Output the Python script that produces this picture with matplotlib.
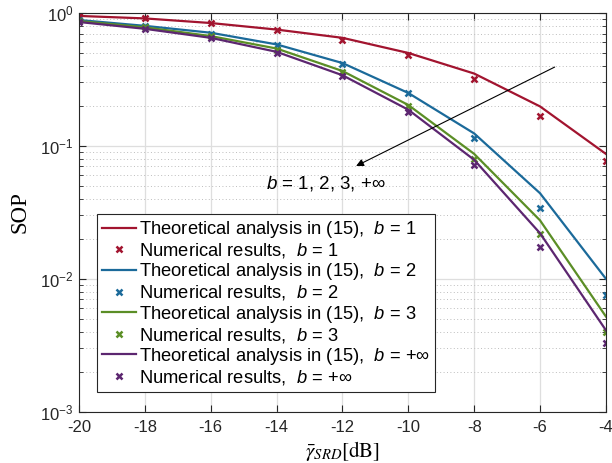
import matplotlib
matplotlib.use("Agg")
import matplotlib.pyplot as plt
from matplotlib.ticker import LogLocator, NullFormatter

plt.rcParams["font.family"] = ["Liberation Sans", "DejaVu Sans"]
plt.rcParams["mathtext.fontset"] = "custom"
plt.rcParams["mathtext.rm"] = "Liberation Sans"
plt.rcParams["mathtext.it"] = "Liberation Sans:italic"
plt.rcParams["mathtext.bf"] = "Liberation Sans:bold"

snr_db = [-20, -18, -16, -14, -12, -10, -8, -6, -4]

theory_b1 = [0.95, 0.91, 0.84, 0.75, 0.65, 0.50, 0.35, 0.198, 0.087]
theory_b2 = [0.885, 0.80, 0.71, 0.58, 0.42, 0.25, 0.124, 0.044, 0.0100]
theory_b3 = [0.87, 0.78, 0.67, 0.54, 0.366, 0.203, 0.087, 0.0275, 0.0052]
theory_binf = [0.855, 0.76, 0.65, 0.51, 0.34, 0.187, 0.0785, 0.022, 0.0041]

sim_b1 = [0.95, 0.91, 0.84, 0.75, 0.63, 0.48, 0.32, 0.167, 0.077]
sim_b2 = [0.88, 0.80, 0.70, 0.57, 0.41, 0.25, 0.114, 0.034, 0.0075]
sim_b3 = [0.87, 0.78, 0.67, 0.53, 0.36, 0.20, 0.080, 0.0217, 0.0040]
sim_binf = [0.85, 0.76, 0.65, 0.50, 0.335, 0.18, 0.072, 0.0172, 0.0033]

b_labels = ["1", "2", "3", "+∞"]
colors = ["#A2142F", "#1B6A9A", "#5B8E26", "#5C2670"]

theory = [theory_b1, theory_b2, theory_b3, theory_binf]
sims = [sim_b1, sim_b2, sim_b3, sim_binf]

fig = plt.figure(figsize=(6.12, 4.63), dpi=100)
ax = fig.add_axes([0.129, 0.111, 0.861, 0.861])

for th, sm, lab, col in zip(theory, sims, b_labels, colors):
    ax.plot(snr_db, th, color=col, linewidth=1.6,
            label=f"Theoretical analysis in (15),  $b$ = {lab}")
    ax.plot(snr_db, sm, linestyle="none", marker="x", markersize=5,
            markeredgewidth=1.8, color=col,
            label=f"Numerical results,  $b$ = {lab}")

ax.set_yscale("log")
ax.set_xlim(-20, -4)
ax.set_ylim(1e-3, 1)
ax.set_xticks(range(-20, -3, 2))
ax.set_xticklabels([str(v) for v in range(-20, -3, 2)])
ax.yaxis.set_major_locator(LogLocator(base=10, numticks=10))
ax.yaxis.set_minor_locator(LogLocator(base=10, subs=range(2, 10), numticks=20))
ax.yaxis.set_minor_formatter(NullFormatter())

ax.grid(True, which="major", color="#dedede", linewidth=0.9)
ax.grid(True, which="minor", axis="y", color="#bdbdbd", linestyle=(0, (1, 2.5)), linewidth=0.7)
ax.set_axisbelow(True)

ax.tick_params(which="both", direction="in", top=True, right=True, labelsize=12, colors="#262626")
ax.tick_params(which="major", length=5)
ax.tick_params(which="minor", length=3)
ax.tick_params(axis="x", pad=6)
ax.tick_params(axis="y", pad=4)
for s in ax.spines.values():
    s.set_color("#262626")
    s.set_linewidth(0.8)

ax.set_ylabel("SOP", family="Liberation Serif", fontsize=16.5)
ax.yaxis.set_label_coords(-0.092, 0.5)
ax.set_xlabel(r"$\bar{\gamma}_{SRD}[\mathrm{dB}]$", fontsize=15, math_fontfamily="stix")
ax.xaxis.set_label_coords(0.5, -0.068)

ax.annotate("", xy=(-11.66, 0.069), xytext=(-5.48, 0.40),
            arrowprops=dict(arrowstyle="-|>", color="black", lw=0.8, mutation_scale=11))
ax.text(-14.32, 0.0518, "$b$ = 1, 2, 3, +∞", fontsize=13.5, va="center", ha="left")

leg = ax.legend(loc="upper left", bbox_to_anchor=(0.034, 0.4956), fontsize=13.2,
                frameon=True, fancybox=False, edgecolor="#262626", framealpha=1,
                handlelength=1.85, handletextpad=0.17, borderpad=0.28, labelspacing=0.06,
                borderaxespad=0)
leg.get_frame().set_linewidth(0.8)

fig.savefig("out.png", dpi=100)
